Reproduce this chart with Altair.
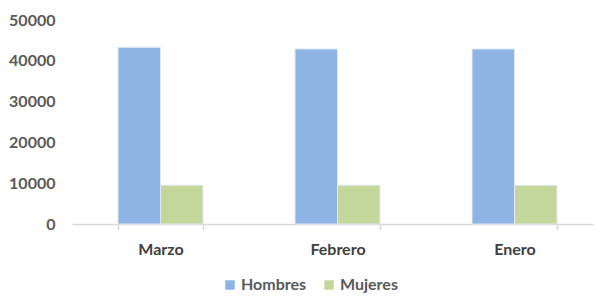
import altair as alt
import pandas as pd

months = ["Marzo", "Febrero", "Enero"]
series = ["Hombres", "Mujeres"]
hombres = [43300, 42900, 42900]
mujeres = [9500, 9500, 9450]
colors = ["#8EB4E3", "#C4D79B"]

rows = []
for i, m in enumerate(months):
    rows.append({"mes": m, "sexo": "Hombres", "valor": hombres[i]})
    rows.append({"mes": m, "sexo": "Mujeres", "valor": mujeres[i]})
df = pd.DataFrame(rows)

FONT = "Lato"

chart = alt.Chart(df).mark_bar(stroke="#dfe8f3", strokeWidth=1).encode(
    x=alt.X("mes:N", sort=months, title=None,
            scale=alt.Scale(paddingInner=0.52, paddingOuter=0.26, range=[0, 531]),
            axis=alt.Axis(labelAngle=0, labelFont=FONT, labelFontSize=16, labelFontWeight="bold",
                          labelColor="#404040", labelPadding=11, domainColor="#d9d9d9", domainWidth=1.5,
                          tickColor="#d9d9d9", tickWidth=1.5, tickSize=6, tickBand="extent")),
    xOffset=alt.XOffset("sexo:N", sort=series, scale=alt.Scale(paddingInner=0, paddingOuter=0)),
    y=alt.Y("valor:Q", title=None, scale=alt.Scale(domain=[0, 50000], nice=False),
            axis=alt.Axis(values=[0, 10000, 20000, 30000, 40000, 50000], grid=False, domain=False,
                          ticks=False, labelFont=FONT, labelFontSize=16, labelFontWeight="bold",
                          labelColor="#595959", labelPadding=17, format="d")),
    color=alt.Color("sexo:N", sort=series, scale=alt.Scale(domain=series, range=colors),
                    legend=alt.Legend(title=None, orient="none", direction="horizontal",
                                      legendX=150, legendY=257, symbolType="square", symbolSize=90,
                                      symbolStrokeWidth=0, labelFont=FONT, labelFontSize=16,
                                      labelFontWeight="bold", labelColor="#595959",
                                      columnPadding=14, labelOffset=3)),
).properties(
    width=522, height=204,
    autosize=alt.AutoSizeParams(type="none"),
    padding={"left": 64, "top": 12, "right": 0, "bottom": 70},
).configure_view(stroke=None)

chart.save("out.html", embed_options={"renderer": "svg", "actions": False})
